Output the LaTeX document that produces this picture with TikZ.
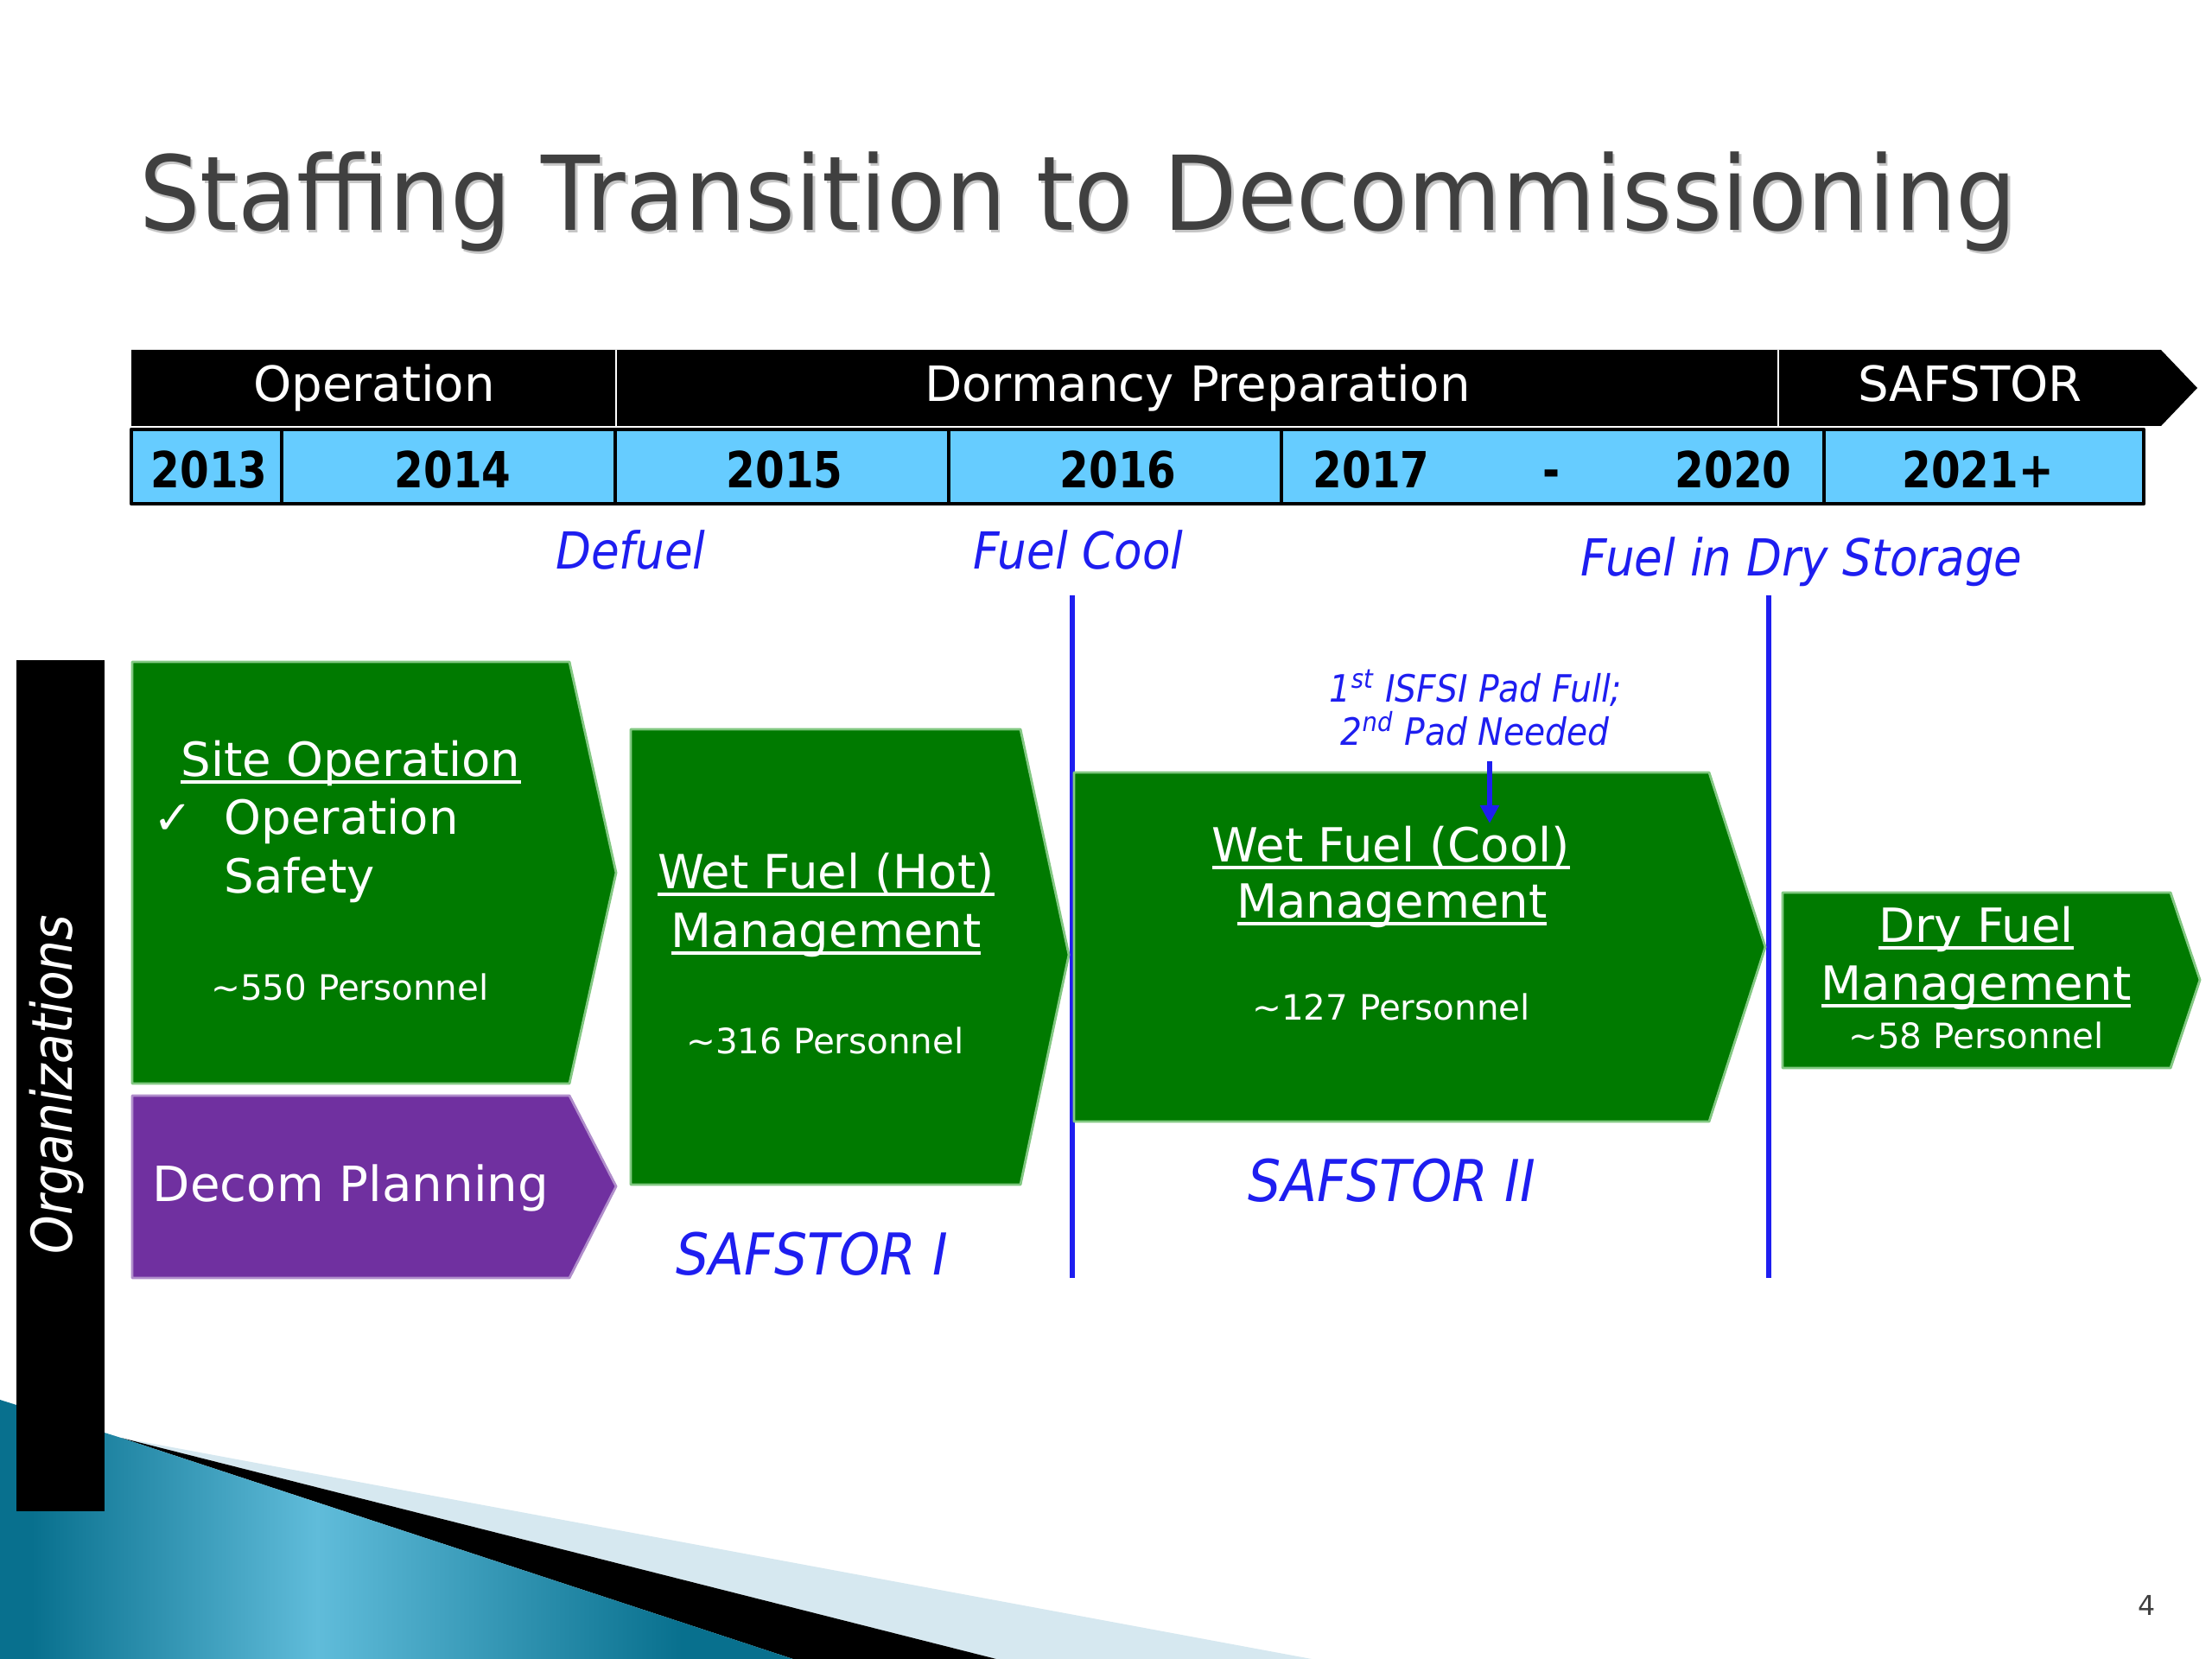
\documentclass[tikz,border=0pt]{standalone}
\usepackage{fontspec}
\setmainfont{DejaVu Sans}
\newfontfamily\titlesans[FakeStretch=0.93]{DejaVu Sans}
\newfontfamily\labelsans[FakeStretch=0.9]{DejaVu Sans}
\newfontfamily\yearsans[FakeStretch=0.84]{DejaVu Sans}
\newfontfamily\orgsans[FakeStretch=0.87]{DejaVu Sans}
\usepackage{xcolor}
\usetikzlibrary{arrows.meta}

\newcommand{\ulabel}[1]{\setbox0\hbox{#1}\rlap{\rule[-2.5pt]{\wd0}{1.1pt}}\box0}

\definecolor{boxgreen}{RGB}{0,122,0}
\definecolor{boxedge}{RGB}{130,200,130}
\definecolor{decompurple}{RGB}{112,48,160}
\definecolor{yearblue}{RGB}{102,204,255}
\definecolor{markblue}{RGB}{30,30,240}
\definecolor{titlegray}{RGB}{64,64,64}
\definecolor{tealdark}{RGB}{8,112,142}
\definecolor{teallight}{RGB}{96,188,218}
\definecolor{tealpale}{RGB}{214,232,240}
\pgfdeclarehorizontalshading{tealswoosh}{100bp}{color(0bp)=(tealdark); color(27bp)=(tealdark); color(45bp)=(teallight); color(68bp)=(tealdark); color(100bp)=(tealdark)}

\begin{document}
\begin{tikzpicture}[line join = round,
    stage/.style={fill=boxgreen, draw=boxedge, line width=0.8pt},
    boxtxt/.style={text=white, anchor=base, inner sep=0pt, font=\fontsize{15.5}{19}\selectfont},
    headcount/.style={text=white, anchor=base, inner sep=0pt, font=\fontsize{11.5}{14}\selectfont},
    phase/.style={text=markblue, anchor=base, inner sep=0pt, font=\labelsans\itshape\fontsize{16.8}{20}\selectfont},
    era/.style={phase, font=\labelsans\itshape\fontsize{19}{23}\selectfont},
    note/.style={phase, font=\labelsans\itshape\fontsize{12.4}{15}\selectfont},
    headlbl/.style={text=white, anchor=base, inner sep=0pt, font=\fontsize{16}{19}\selectfont},
    yearlbl/.style={anchor=base, inner sep=0pt, font=\yearsans\bfseries\fontsize{16.4}{19}\selectfont},
    divider/.style={draw=markblue, line width=1.7pt}]

    \fill[white] (0,0) rectangle (25.6,-19.2);
    \useasboundingbox (0,0) rectangle (25.6,-19.2);

    % corner decoration
    \fill[tealpale] (1.40,-16.64) -- (15.18,-19.2) -- (11.53,-19.2) -- cycle;
    \fill[black] (1.40,-16.64) -- (11.53,-19.2) -- (9.18,-19.2) -- cycle;
    \shade[shading=tealswoosh]
        (0,-16.2) -- (1.40,-16.64) -- (9.18,-19.2) -- (0,-19.2) -- cycle;

    % title
    \node[anchor=base, inner sep=0pt, text=gray!45, font=\titlesans\fontsize{34}{40}\selectfont] (titleshadow) at (12.50,-2.70) {Staffing Transition to Decommissioning};
    \node[anchor=base, inner sep=0pt, text=titlegray, font=\titlesans\fontsize{34}{40}\selectfont] (title) at (12.475,-2.67) {Staffing Transition to Decommissioning};

    % phase bar
    \fill[black] (1.52,-4.05) -- (25.01,-4.05) -- (25.43,-4.49) -- (25.01,-4.93) -- (1.52,-4.93) -- cycle;
    \draw[white, line width=0.8pt] (7.13,-4.05) -- (7.13,-4.93);
    \draw[white, line width=0.8pt] (20.58,-4.05) -- (20.58,-4.93);
    \node[headlbl] (hOp) at (4.33,-4.65) {Operation};
    \node[headlbl] (hDorm) at (13.86,-4.65) {Dormancy Preparation};
    \node[headlbl] (hSaf) at (22.80,-4.65) {SAFSTOR};

    % years
    \draw[fill=yearblue, line width=1.3pt] (1.52,-4.97) rectangle (24.81,-5.83);
    \foreach \xx in {3.26,7.12,10.98,14.83,21.11}
        \draw[line width=1.2pt] (\xx,-4.97) -- (\xx,-5.83);
    \foreach \nm/\yr/\xx in {a/2013/2.42, b/2014/5.24, c/2015/9.08, d/2016/12.94, e/2017/15.87, f/2020/20.06, g/2021+/22.89}
        \node[yearlbl] (yr\nm) at (\xx,-5.65) {\yr};
    \node[yearlbl] (yrdash) at (17.96,-5.65) {-};

    % milestones
    \node[phase] (defuel) at (7.30,-6.58) {Defuel};
    \node[phase] (fuelcool) at (12.48,-6.58) {Fuel Cool};
    \node[phase] (drystore) at (20.85,-6.67) {Fuel in Dry Storage};
    \coordinate (cooltop) at (12.41,-6.89);
    \coordinate (coolbot) at (12.41,-14.79);
    \coordinate (drytop) at (20.47,-6.89);
    \coordinate (drybot) at (20.47,-14.79);
    \draw[divider] (cooltop) -- (coolbot);
    \draw[divider] (drytop) -- (drybot);

    % organizations label
    \fill[black] (0.19,-7.64) rectangle (1.21,-17.49);
    \node[rotate=90, inner sep=0pt, text=white, font=\orgsans\itshape\fontsize{18.5}{22}\selectfont] (orgtxt) at (0.66,-12.55) {Organizations};

    % site operation
    \draw[stage] (1.53,-7.66) -- (6.59,-7.66) -- (7.13,-10.10) -- (6.59,-12.54) -- (1.53,-12.54) -- cycle;
    \node[boxtxt] (siteop) at (4.06,-8.98) {\ulabel{Site Operation}};
    \node[boxtxt] (chk) at (2.00,-9.65) {✓};
    \node[boxtxt, anchor=base west] (opline) at (2.59,-9.65) {Operation};
    \node[boxtxt, anchor=base west] (safeline) at (2.59,-10.33) {Safety};
    \node[headcount] (hc550) at (4.05,-11.57) {\textasciitilde550 Personnel};

    % decom planning
    \draw[fill=decompurple, draw=decompurple!55!white, line width=0.8pt] (1.53,-12.68) -- (6.59,-12.68) -- (7.13,-13.73) -- (6.59,-14.79) -- (1.53,-14.79) -- cycle;
    \node[boxtxt, font=\fontsize{16}{19}\selectfont] (decom) at (4.06,-13.90) {Decom Planning};

    % wet fuel hot
    \draw[stage] (7.30,-8.44) -- (11.81,-8.44) -- (12.37,-11.05) -- (11.81,-13.71) -- (7.30,-13.71) -- cycle;
    \node[boxtxt] (wfhot) at (9.56,-10.28) {\ulabel{Wet Fuel (Hot)}};
    \node[boxtxt] (wfhotb) at (9.56,-10.96) {\ulabel{Management}};
    \node[headcount] (hc316) at (9.55,-12.19) {\textasciitilde316 Personnel};
    \node[era] (safI) at (9.40,-14.75) {SAFSTOR I};

    % wet fuel cool
    \draw[stage] (12.43,-8.94) -- (19.78,-8.94) -- (20.43,-10.96) -- (19.78,-12.98) -- (12.43,-12.98) -- cycle;
    \node[boxtxt] (wfcool) at (16.10,-9.97) {\ulabel{Wet Fuel (Cool)}};
    \node[boxtxt] (wfcoolb) at (16.11,-10.62) {\ulabel{Management}};
    \node[headcount] (hc127) at (16.10,-11.80) {\textasciitilde127 Personnel};
    \node[era] (safII) at (16.11,-13.90) {SAFSTOR II};

    \node[note] (isfsiA) at (17.08,-8.12) {1\textsuperscript{st} ISFSI Pad Full;};
    \node[note, inner ysep=5pt] (isfsiB) at (17.07,-8.62) {2\textsuperscript{nd} Pad Needed};
    \coordinate (padtip) at (17.24,-9.53);
    \draw[markblue, line width=1.7pt, -{Triangle[width=6pt,length=6pt]}] (isfsiB.south -| padtip) -- (padtip);

    % dry fuel
    \draw[stage] (20.63,-10.33) -- (25.12,-10.33) -- (25.46,-11.34) -- (25.12,-12.36) -- (20.63,-12.36) -- cycle;
    \node[boxtxt] (dry) at (22.87,-10.90) {\ulabel{Dry Fuel}};
    \node[boxtxt] (dryb) at (22.87,-11.57) {\ulabel{Management}};
    \node[headcount] (hc58) at (22.87,-12.13) {\textasciitilde58 Personnel};

    \node[text=titlegray, font=\fontsize{9}{11}\selectfont] (pagenum) at (24.85,-18.58) {4};

\end{tikzpicture}
\end{document}
